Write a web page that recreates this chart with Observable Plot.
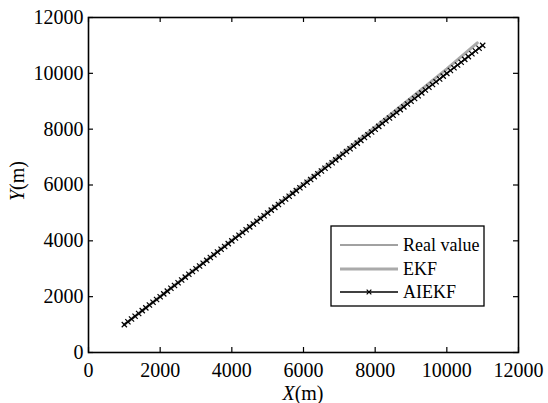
<!DOCTYPE html>
<html>
<head>
<meta charset="utf-8">
<script src="https://cdn.jsdelivr.net/npm/d3@7"></script>
<script src="https://cdn.jsdelivr.net/npm/@observablehq/plot@0.6"></script>
<style>
  html, body { margin: 0; padding: 0; background: #fff; }
  #wrap { position: relative; width: 548px; height: 403px; font-family: "Liberation Serif", "DejaVu Serif", serif; }
</style>
</head>
<body>
<div id="wrap"></div>
<script>
const xTicks = [0, 2000, 4000, 6000, 8000, 10000, 12000];
const yTicks = [0, 2000, 4000, 6000, 8000, 10000, 12000];

const realX = [1000, 3000, 5000, 7000, 8000, 9000, 10000, 10800];
const realY = [1000, 3005, 5015, 7040, 8060, 9090, 10130, 11040];

const ekfX = [1000, 3000, 5000, 7000, 8000, 9000, 10000, 10850];
const ekfY = [1000, 3010, 5025, 7055, 8080, 9115, 10160, 11090];

const aiekfX = [1000,1100,1200,1300,1400,1500,1600,1700,1800,1900,2000,2100,2200,2300,2400,2500,2600,2700,2800,2900,3000,3100,3200,3300,3400,3500,3600,3700,3800,3900,4000,4100,4200,4300,4400,4500,4600,4700,4800,4900,5000,5100,5200,5300,5400,5500,5600,5700,5800,5900,6000,6100,6200,6300,6400,6500,6600,6700,6800,6900,7000,7100,7200,7300,7400,7500,7600,7700,7800,7900,8000,8100,8200,8300,8400,8500,8600,8700,8800,8900,9000,9100,9200,9300,9400,9500,9600,9700,9800,9900,10000,10100,10200,10300,10400,10500,10600,10700,10800,10900,11000];
const aiekfY = [1000,1099,1201,1300,1398,1501,1600,1699,1801,1900,1999,2101,2200,2299,2401,2500,2598,2700,2801,2899,3000,3101,3199,3300,3401,3499,3600,3700,3799,3901,4000,4099,4200,4301,4399,4500,4601,4699,4800,4900,4999,5101,5200,5299,5400,5501,5599,5700,5800,5899,6001,6100,6199,6300,6401,6499,6600,6700,6799,6901,7000,7099,7200,7301,7399,7500,7600,7699,7801,7900,7999,8100,8201,8299,8400,8500,8599,8701,8800,8899,9000,9101,9199,9300,9401,9499,9600,9700,9799,9901,10000,10099,10200,10301,10399,10500,10600,10699,10801,10900,11000];

const seriesNames = ["Real value", "EKF", "AIEKF"];

const real = realX.map((x, i) => ({x, y: realY[i]}));
const ekf = ekfX.map((x, i) => ({x, y: ekfY[i]}));
const aiekf = aiekfX.map((x, i) => ({x, y: aiekfY[i]}));

const W = 548, H = 403, ML = 88, MR = 30, MT = 17, MB = 51;
const innerW = W - ML - MR, innerH = H - MT - MB, TL = 5;

const chart = Plot.plot({
  width: W,
  height: H,
  marginLeft: ML,
  marginRight: MR,
  marginTop: MT,
  marginBottom: MB,
  style: {fontFamily: "'Liberation Serif', 'DejaVu Serif', serif", fontSize: "20px", color: "#000", background: "#fff"},
  x: {domain: [0, 12000], ticks: xTicks, label: null},
  y: {domain: [0, 12000], ticks: yTicks, label: null},
  marks: [
    Plot.line(real, {x: "x", y: "y", stroke: "#444", strokeWidth: 1}),
    Plot.line(ekf, {x: "x", y: "y", stroke: "#aaaaaa", strokeWidth: 3}),
    Plot.line(aiekf, {x: "x", y: "y", stroke: "#000", strokeWidth: 1.3}),
    Plot.dot(aiekf, {x: "x", y: "y", symbol: "times", r: 2.5, stroke: "#000", strokeWidth: 1.2}),
    Plot.axisX({anchor: "bottom", ticks: xTicks, tickSize: 0, tickPadding: 10, tickFormat: d => String(d), fontSize: 20}),
    Plot.axisY({anchor: "left", ticks: yTicks, tickSize: 0, tickPadding: 5, tickFormat: d => String(d), fontSize: 20}),
    Plot.tickX(xTicks, {x: d => d, insetTop: innerH - TL, stroke: "#000", strokeWidth: 1.2}),
    Plot.tickX(xTicks, {x: d => d, insetBottom: innerH - TL, stroke: "#000", strokeWidth: 1.2}),
    Plot.tickY(yTicks, {y: d => d, insetRight: innerW - TL, stroke: "#000", strokeWidth: 1.2}),
    Plot.tickY(yTicks, {y: d => d, insetLeft: innerW - TL, stroke: "#000", strokeWidth: 1.2}),
    Plot.frame({stroke: "#000", strokeWidth: 1.6})
  ]
});

const wrap = document.getElementById("wrap");
wrap.appendChild(chart);

const svg = d3.select(chart);
const xl = svg.append("text")
  .attr("x", 303).attr("y", 400)
  .attr("text-anchor", "middle")
  .attr("font-size", 20)
  .attr("fill", "#000");
xl.append("tspan").attr("font-style", "italic").text("X");
xl.append("tspan").text("(m)");

const yl = svg.append("text")
  .attr("transform", "translate(24,181) rotate(-90)")
  .attr("text-anchor", "middle")
  .attr("font-size", 20)
  .attr("fill", "#000");
yl.append("tspan").attr("font-style", "italic").text("Y");
yl.append("tspan").text("(m)");

// Legend
const lg = svg.append("g");
lg.append("rect").attr("x", 331).attr("y", 226).attr("width", 153).attr("height", 80)
  .attr("fill", "#fff").attr("stroke", "#000").attr("stroke-width", 1.3);
const rows = [
  {name: seriesNames[0], stroke: "#444", w: 1, y: 245},
  {name: seriesNames[1], stroke: "#aaaaaa", w: 3, y: 269},
  {name: seriesNames[2], stroke: "#000", w: 1.3, y: 292}
];
rows.forEach((r, i) => {
  lg.append("line").attr("x1", 340).attr("x2", 398).attr("y1", r.y).attr("y2", r.y)
    .attr("stroke", r.stroke).attr("stroke-width", r.w);
  if (i === 2) {
    lg.append("path").attr("d", d3.symbol(d3.symbolTimes, 16)())
      .attr("transform", `translate(369,${r.y})`).attr("stroke", "#000").attr("stroke-width", 1.2).attr("fill", "none");
  }
  lg.append("text").attr("x", 403).attr("y", r.y).attr("dy", "0.35em")
    .attr("text-anchor", "start")
    .attr("font-size", 18).attr("fill", "#000").text(r.name);
});
</script>
</body>
</html>
